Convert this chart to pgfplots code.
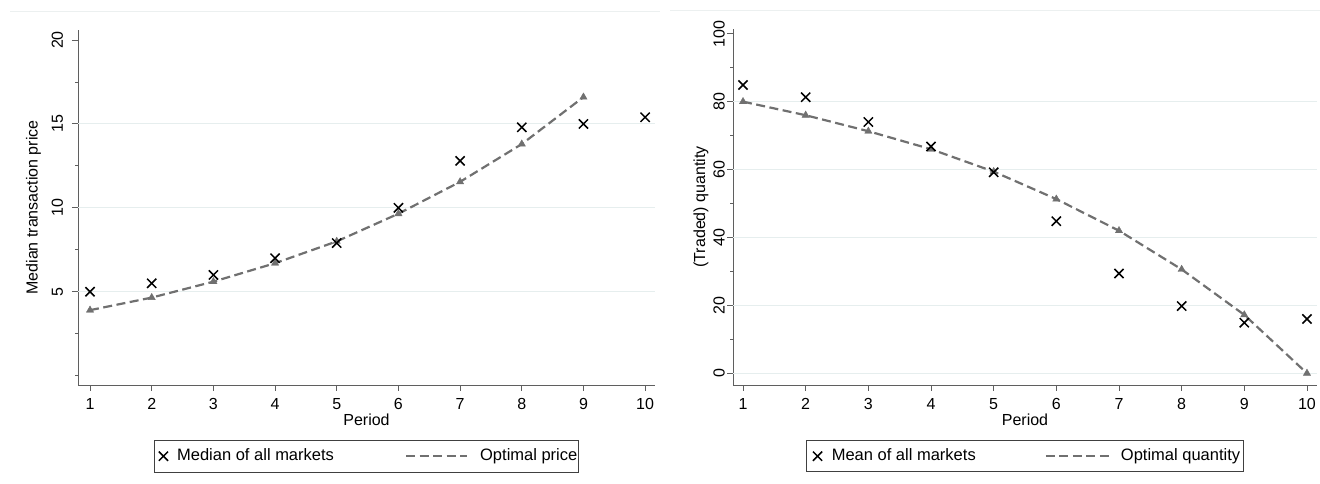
\documentclass[border=0pt]{standalone}
\usepackage{fontspec}
\setmainfont{Liberation Sans}
\usepackage{pgfplots}
\pgfplotsset{compat=1.18}
\definecolor{gridc}{RGB}{230,238,238}
\definecolor{linec}{RGB}{112,112,112}
\definecolor{axc}{RGB}{95,95,95}
\definecolor{topc}{RGB}{236,240,240}
\pgfplotsset{
  xleg/.style={legend image code/.code={\path (-2pt,0pt) (12pt,0pt); \draw[##1] plot coordinates {(5pt,0pt)};}},
  lineleg/.style={legend image code/.code={\draw[##1] (0pt,0pt) -- (#1,0pt);}},
  stata/.style={
    scale only axis,
    axis lines*=left,
    axis line style={axc, line width=0.9pt},
    tick align=outside,
    major tick length=6pt,
    minor tick length=3pt,
    tick style={axc, line width=0.9pt},
    /pgf/number format/assume math mode=true,
    tick label style={font=\fontsize{16}{19}\selectfont, black},
    xtick={1,2,...,10},
    xticklabel style={inner sep=0pt, anchor=north},
    xticklabel shift=7pt,
    yticklabel style={rotate=90, anchor=south, inner sep=0pt},
    label style={font=\fontsize{16}{19}\selectfont},
    xlabel={Period},
    xlabel style={at={(axis description cs:0.5,-0.0986)}, anchor=center},
    grid style={gridc, line width=1pt},
    extra y tick style={grid=major, tick style={draw=none}},
    legend columns=2,
    reverse legend,
  }
}
\begin{document}
\begin{tikzpicture}
\path[use as bounding box] (0pt,0pt) rectangle (1320pt,484pt);
\draw[topc, line width=1pt] (10pt,472pt) -- (660pt,472pt);
\draw[topc, line width=1pt] (670pt,473pt) -- (1320pt,473pt);

% ---------------- left panel ----------------
\begin{axis}[stata,
  at={(78pt,99pt)}, anchor=south west,
  width=577pt, height=355pt,
  xmin=0.805, xmax=10.16, ymin=-0.56, ymax=20.6,
  ytick={5,10,15,20},
  minor ytick={0,2.5,7.5,12.5,17.5},
  extra y ticks={5,10,15}, extra y tick labels={},
  yticklabel shift=8.7pt,
  ylabel={Median transaction price},
  ylabel style={at={(axis description cs:-0.0771,0.5)}, anchor=center},
  legend style={at={(axis description cs:0.5,-0.155)}, anchor=north,
    draw=black!75, line width=0.8pt, fill=white,
    inner xsep=1pt, inner ysep=8pt,
    font=\fontsize{16.5}{19}\selectfont,
    nodes={inner sep=0pt, text height=12pt, text depth=3.5pt},
    /tikz/every even column/.style={},
    /tikz/column 1/.style={column sep=6pt},
    /tikz/column 2/.style={column sep=71pt},
    /tikz/column 3/.style={column sep=12pt}},
]
\addplot[linec, line width=2.2pt, dash pattern=on 9pt off 4.5pt,
  mark=triangle*, mark size=4.2pt,
  mark options={solid, fill=linec, draw=linec, line width=0.4pt},
  lineleg=61pt]
  coordinates {(1,3.9) (2,4.65) (3,5.6) (4,6.7) (5,8.0) (6,9.65) (7,11.55) (8,13.8) (9,16.6)};
\addlegendentry{Optimal price\hspace{16pt}}
\addplot[only marks, mark=x, mark size=6.5pt, black, line width=1.5pt, xleg]
  coordinates {(1,5.0) (2,5.5) (3,6.0) (4,7.0) (5,7.9) (6,10.0) (7,12.8) (8,14.8) (9,15.0) (10,15.4)};
\addlegendentry{Median of all markets}
\end{axis}

% ---------------- right panel ----------------
\begin{axis}[stata,
  at={(733pt,99pt)}, anchor=south west,
  width=584pt, height=356pt,
  xmin=0.84, xmax=10.16, ymin=-3.45, ymax=101.4,
  ytick={0,20,40,60,80,100},
  minor ytick={10,30,50,70,90},
  extra y ticks={0,20,40,60,80}, extra y tick labels={},
  yticklabel shift=2pt,
  ylabel={(Traded) quantity},
  ylabel style={at={(axis description cs:-0.0548,0.5)}, anchor=center},
  legend style={at={(axis description cs:0.5,-0.1545)}, anchor=north,
    draw=black!75, line width=0.8pt, fill=white,
    inner xsep=3pt, inner ysep=8pt,
    font=\fontsize{16.5}{19}\selectfont,
    nodes={inner sep=0pt, text height=12pt, text depth=3.5pt},
    /tikz/every even column/.style={},
    /tikz/column 1/.style={column sep=6.5pt},
    /tikz/column 2/.style={column sep=69pt},
    /tikz/column 3/.style={column sep=10pt}},
]
\addplot[linec, line width=2.2pt, dash pattern=on 9pt off 4.5pt,
  mark=triangle*, mark size=4.2pt,
  mark options={solid, fill=linec, draw=linec, line width=0.4pt},
  lineleg=64pt]
  coordinates {(1,80.0) (2,76.0) (3,71.3) (4,66.0) (5,59.4) (6,51.3) (7,42.0) (8,30.6) (9,17.2) (10,0.0)};
\addlegendentry{Optimal quantity\hspace{15pt}}
\addplot[only marks, mark=x, mark size=6.5pt, black, line width=1.5pt, xleg]
  coordinates {(1,84.9) (2,81.3) (3,74.0) (4,66.8) (5,59.2) (6,44.8) (7,29.4) (8,19.8) (9,14.9) (10,16.0)};
\addlegendentry{Mean of all markets}
\end{axis}
\end{tikzpicture}
\end{document}
